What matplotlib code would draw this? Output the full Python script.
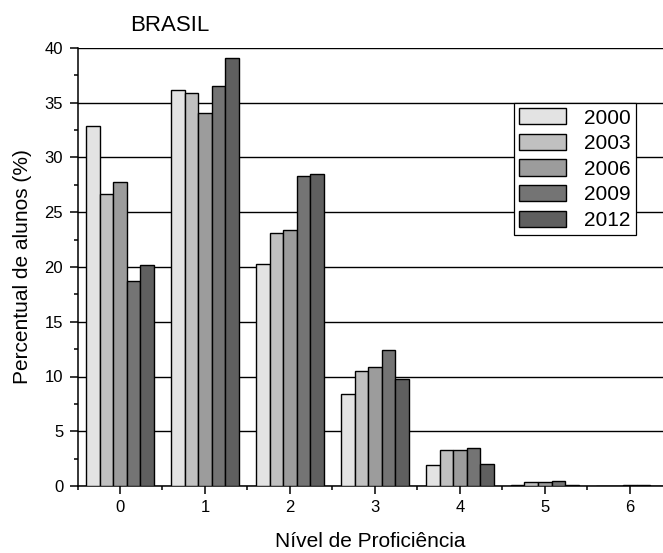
import numpy as np
import matplotlib
matplotlib.use("Agg")
import matplotlib.pyplot as plt
from matplotlib.ticker import MultipleLocator

plt.rcParams.update({
    "font.family": "sans-serif",
    "font.sans-serif": ["Liberation Sans", "DejaVu Sans"],
})

# ── Data ──────────────────────────────────────────────────────────────────
levels = [0, 1, 2, 3, 4, 5, 6]
years = ["2000", "2003", "2006", "2009", "2012"]
pct_2000 = [32.9, 36.2, 20.3, 8.4, 1.9, 0.1, 0.0]
pct_2003 = [26.7, 35.9, 23.1, 10.5, 3.3, 0.4, 0.0]
pct_2006 = [27.8, 34.1, 23.4, 10.9, 3.3, 0.4, 0.05]
pct_2009 = [18.7, 36.5, 28.3, 12.4, 3.5, 0.45, 0.05]
pct_2012 = [20.2, 39.1, 28.5, 9.8, 2.0, 0.1, 0.02]
colors = ["#e3e3e3", "#c0c0c0", "#9c9c9c", "#747474", "#5f5f5f"]

series = [pct_2000, pct_2003, pct_2006, pct_2009, pct_2012]

# ── Plot ──────────────────────────────────────────────────────────────────
W, H = 663, 553
fig = plt.figure(figsize=(W / 100, H / 100), dpi=100)
ax = fig.add_axes([77.5 / W, 67 / H, 1 - 77.5 / W, 438 / H])

x = np.array(levels, dtype=float)
width = 0.16
for i, (vals, yr, c) in enumerate(zip(series, years, colors)):
    ax.bar(x + (i - 2) * width, vals, width, color=c, edgecolor="black",
           linewidth=1.0, label=yr, zorder=3)

ax.set_xlim(-0.5, 6.39)
ax.set_ylim(0, 40)
ax.set_xticks(levels)
ax.xaxis.set_minor_locator(MultipleLocator(0.5))
ax.yaxis.set_major_locator(MultipleLocator(5))
ax.yaxis.set_minor_locator(MultipleLocator(2.5))
ax.grid(axis="y", which="major", color="black", linewidth=1.0, zorder=0)
ax.tick_params(which="major", direction="out", length=6, width=1.1,
               labelsize=12, pad=4.3)
ax.tick_params(which="minor", direction="out", length=3, width=1.1)

for s in ["top", "right"]:
    ax.spines[s].set_visible(False)
for s in ["left", "bottom"]:
    ax.spines[s].set_linewidth(1.1)

# axis titles and panel name
fig.text(370 / W, 1 - 547 / H, "Nível de Proficiência", ha="center",
         va="baseline", fontsize=15)
fig.text(23 / W, 1 - 267 / H, "Percentual de alunos (%)", ha="center",
         va="center", rotation=90, fontsize=15)
fig.text(170 / W, 1 - 31 / H, "BRASIL", ha="center", va="baseline",
         fontsize=16)

leg = ax.legend(loc="upper left", bbox_to_anchor=(514 / W, 1 - 103 / H),
                bbox_transform=fig.transFigure, fontsize=15,
                fancybox=False, framealpha=1, edgecolor="black",
                handlelength=2.26, handleheight=0.82, handletextpad=0.87,
                labelspacing=0.3, borderpad=0.25, borderaxespad=0)
leg.get_frame().set_linewidth(0.9)
leg.set_zorder(5)

fig.savefig("out.png", dpi=100)
